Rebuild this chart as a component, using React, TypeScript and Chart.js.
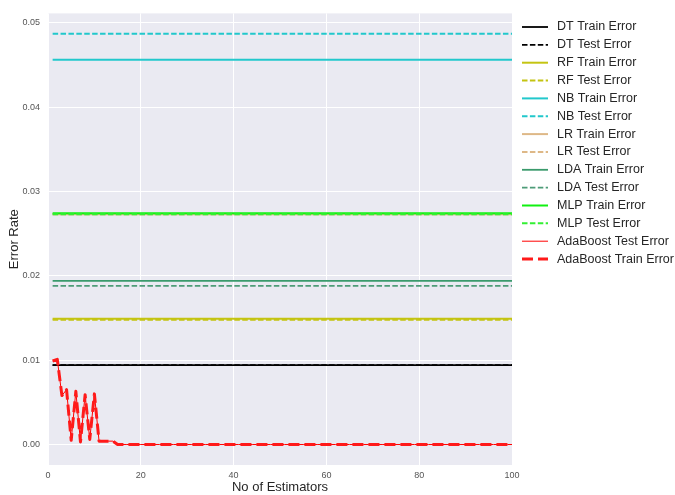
import React, { useEffect, useRef } from "react";
import { Chart, registerables } from "chart.js";

Chart.register(...registerables);

// Number of estimators (x categories)
const estimators: number[] = Array.from({ length: 100 }, (_, i) => i + 1);

// Constant error rates per model
const dtTrain = 0.0094;
const dtTest = 0.0094;
const rfTrain = 0.0149;
const rfTest = 0.0148;
const nbTrain = 0.0456;
const nbTest = 0.0487;
const lrTrain = 0.0273;
const lrTest = 0.0273;
const ldaTrain = 0.0194;
const ldaTest = 0.0188;
const mlpTrain = 0.0274;
const mlpTest = 0.0273;

// AdaBoost error per number of estimators
const adaTest: number[] = [
  0.0099, 0.0101, 0.0058, 0.0065, 0.0005, 0.0063, 0.0003, 0.0059, 0.0006, 0.006,
  0.0004, 0.0004, 0.0004, 0.0004, 0.0, 0.0, 0.0, 0.0, 0.0, 0.0,
  0.0, 0.0, 0.0, 0.0, 0.0, 0.0, 0.0, 0.0, 0.0, 0.0,
  0.0, 0.0, 0.0, 0.0, 0.0, 0.0, 0.0, 0.0, 0.0, 0.0,
  0.0, 0.0, 0.0, 0.0, 0.0, 0.0, 0.0, 0.0, 0.0, 0.0,
  0.0, 0.0, 0.0, 0.0, 0.0, 0.0, 0.0, 0.0, 0.0, 0.0,
  0.0, 0.0, 0.0, 0.0, 0.0, 0.0, 0.0, 0.0, 0.0, 0.0,
  0.0, 0.0, 0.0, 0.0, 0.0, 0.0, 0.0, 0.0, 0.0, 0.0,
  0.0, 0.0, 0.0, 0.0, 0.0, 0.0, 0.0, 0.0, 0.0, 0.0,
  0.0, 0.0, 0.0, 0.0, 0.0, 0.0, 0.0, 0.0, 0.0, 0.0,
];
const adaTrain: number[] = [
  0.0099, 0.0101, 0.0058, 0.0065, 0.0005, 0.0063, 0.0003, 0.0059, 0.0006, 0.006,
  0.0004, 0.0004, 0.0004, 0.0004, 0.0, 0.0, 0.0, 0.0, 0.0, 0.0,
  0.0, 0.0, 0.0, 0.0, 0.0, 0.0, 0.0, 0.0, 0.0, 0.0,
  0.0, 0.0, 0.0, 0.0, 0.0, 0.0, 0.0, 0.0, 0.0, 0.0,
  0.0, 0.0, 0.0, 0.0, 0.0, 0.0, 0.0, 0.0, 0.0, 0.0,
  0.0, 0.0, 0.0, 0.0, 0.0, 0.0, 0.0, 0.0, 0.0, 0.0,
  0.0, 0.0, 0.0, 0.0, 0.0, 0.0, 0.0, 0.0, 0.0, 0.0,
  0.0, 0.0, 0.0, 0.0, 0.0, 0.0, 0.0, 0.0, 0.0, 0.0,
  0.0, 0.0, 0.0, 0.0, 0.0, 0.0, 0.0, 0.0, 0.0, 0.0,
  0.0, 0.0, 0.0, 0.0, 0.0, 0.0, 0.0, 0.0, 0.0, 0.0,
];

const xTicks: number[] = [0, 20, 40, 60, 80, 100];
const yTicks: number[] = [0, 0.01, 0.02, 0.03, 0.04, 0.05];

type Series = {
  label: string;
  color: string;
  width: number;
  dash: number[];
  values: number[];
};

const constant = (v: number) => estimators.map(() => v);

const FONT = "'Liberation Sans', Arial, sans-serif";

export default function App() {
  const ref = useRef<HTMLCanvasElement | null>(null);

  useEffect(() => {
    document.body.style.margin = "0";
    const series: Series[] = [
      { label: "DT Train Error", color: "#000000", width: 1.8, dash: [], values: constant(dtTrain) },
      { label: "DT Test Error", color: "#000000", width: 1.8, dash: [5.5, 2.4], values: constant(dtTest) },
      { label: "RF Train Error", color: "#c4c412", width: 2, dash: [], values: constant(rfTrain) },
      { label: "RF Test Error", color: "#c4c412", width: 2, dash: [5.5, 2.4], values: constant(rfTest) },
      { label: "NB Train Error", color: "#22c8cc", width: 2, dash: [], values: constant(nbTrain) },
      { label: "NB Test Error", color: "#22c8cc", width: 2, dash: [5.5, 2.4], values: constant(nbTest) },
      { label: "LR Train Error", color: "#deb887", width: 2, dash: [], values: constant(lrTrain) },
      { label: "LR Test Error", color: "#deb887", width: 2, dash: [5.5, 2.4], values: constant(lrTest) },
      { label: "LDA Train Error", color: "#3a9a6c", width: 1.8, dash: [], values: constant(ldaTrain) },
      { label: "LDA Test Error", color: "#4e9c78", width: 1.8, dash: [5.5, 2.4], values: constant(ldaTest) },
      { label: "MLP Train Error", color: "#11f011", width: 2, dash: [], values: constant(mlpTrain) },
      { label: "MLP Test Error", color: "#33f033", width: 2, dash: [5.5, 2.4], values: constant(mlpTest) },
      { label: "AdaBoost Test Error", color: "#ff0000", width: 1, dash: [], values: adaTest },
      { label: "AdaBoost Train Error", color: "#ff1a1a", width: 3, dash: [11, 5], values: adaTrain },
    ];

    const bgPlugin = {
      id: "bg",
      beforeDraw(chart: any) {
        const { ctx, chartArea } = chart;
        ctx.save();
        ctx.fillStyle = "#eaeaf2";
        ctx.fillRect(chartArea.left, chartArea.top, chartArea.right - chartArea.left, chartArea.bottom - chartArea.top);
        ctx.restore();
      },
    };

    const legendPlugin = {
      id: "mplLegend",
      afterDraw(chart: any) {
        const ctx = chart.ctx;
        ctx.save();
        const x0 = 522;
        const x1 = 548;
        const tx = 557;
        const y0 = 27;
        const step = 17.85;
        series.forEach((s, i) => {
          const y = y0 + i * step;
          ctx.beginPath();
          ctx.strokeStyle = s.color;
          ctx.lineWidth = s.width;
          ctx.setLineDash(s.dash);
          ctx.moveTo(x0, y);
          ctx.lineTo(x1, y);
          ctx.stroke();
          ctx.setLineDash([]);
          ctx.fillStyle = "#262626";
          ctx.font = `12.5px ${FONT}`;
          ctx.textBaseline = "middle";
          ctx.textAlign = "left";
          ctx.fillText(s.label, tx, y);
        });
        ctx.restore();
      },
    };

    const chart = new Chart(ref.current as HTMLCanvasElement, {
      type: "line",
      data: {
        datasets: series.map((s, i) => ({
          label: s.label,
          data: estimators.map((n, k) => ({ x: n, y: s.values[k] })),
          borderColor: s.color,
          backgroundColor: s.color,
          borderWidth: s.width,
          borderDash: s.dash,
          borderJoinStyle: "round",
          borderCapStyle: "butt",
          pointRadius: 0,
          tension: 0,
          fill: false,
          order: series.length - i,
        })),
      },
      options: {
        animation: false,
        responsive: false,
        maintainAspectRatio: false,
        layout: { padding: { top: 11, right: 163, left: 0, bottom: 0 } },
        plugins: {
          legend: { display: false },
          tooltip: { enabled: false },
        },
        scales: {
          x: {
            type: "linear",
            min: 0,
            max: 100,
            afterBuildTicks: (s: any) => {
              s.ticks = xTicks.map((v) => ({ value: v }));
            },
            afterFit: (s: any) => {
              s.height = 30;
            },
            grid: { color: "#ffffff", lineWidth: 1, drawTicks: false },
            border: { display: false },
            ticks: {
              padding: 5,
              color: "#555555",
              font: { family: FONT, size: 9 },
              callback: (v: any) => String(v),
            },
            title: {
              display: true,
              text: "No of Estimators",
              color: "#262626",
              font: { family: FONT, size: 13 },
              padding: { top: 1, bottom: 0 },
            },
          },
          y: {
            type: "linear",
            min: -0.00243,
            max: 0.0511,
            afterBuildTicks: (s: any) => {
              s.ticks = yTicks.map((v) => ({ value: v }));
            },
            afterFit: (s: any) => {
              s.width = 48;
            },
            grid: { color: "#ffffff", lineWidth: 1, drawTicks: false },
            border: { display: false },
            ticks: {
              padding: 8,
              color: "#555555",
              font: { family: FONT, size: 9 },
              callback: (v: any) => Number(v).toFixed(2),
            },
            title: {
              display: true,
              text: "Error Rate",
              color: "#262626",
              font: { family: FONT, size: 13 },
              padding: { top: 7, bottom: 0 },
            },
          },
        },
      },
      plugins: [bgPlugin, legendPlugin],
    } as any);

    return () => chart.destroy();
  }, []);

  return (
    <div style={{ position: "absolute", left: 0, top: 0, width: 675, height: 495 }}>
      <canvas ref={ref} width={675} height={495} style={{ width: 675, height: 495 }} />
    </div>
  );
}
